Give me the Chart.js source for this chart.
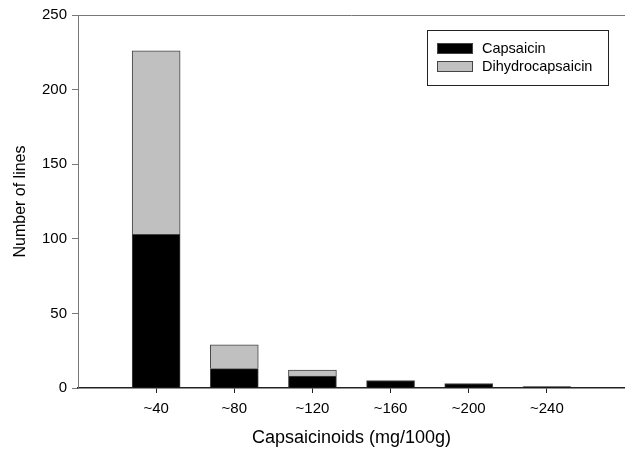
<!DOCTYPE html>
<html>
<head>
<meta charset="utf-8">
<script src="https://cdn.jsdelivr.net/npm/chart.js@4/dist/chart.umd.min.js"></script>
<style>
    html, body { margin: 0; padding: 0; background: #fff; }
    #wrap { width: 625px; height: 449px; position: relative; }
</style>
</head>
<body>
<div id="wrap"><canvas id="chart"></canvas></div>
<script>
const binCenters = [40, 80, 120, 160, 200, 240];
const capsaicin = [103, 13, 8, 5, 3, 1];
const dihydrocapsaicin = [123, 16, 4, 0, 0, 0];
const yTicks = [0, 50, 100, 150, 200, 250];

const FONT = '"Liberation Sans", Arial, sans-serif';

// legend box drawn inside the plot, top right
const boxLegend = {
    id: 'boxLegend',
    afterDraw(chart) {
        const ctx = chart.ctx;
        const x = 427, y = 30, w = 181, h = 55;
        ctx.save();
        ctx.strokeStyle = '#222';
        ctx.lineWidth = 1;
        ctx.fillStyle = '#fff';
        ctx.fillRect(x, y, w, h);
        ctx.strokeRect(x + 0.5, y + 0.5, w, h);
        ctx.font = '14.5px ' + FONT;
        ctx.textBaseline = 'middle';
        chart.data.datasets.forEach((ds, i) => {
            const sy = 43 + i * 18;
            ctx.fillStyle = ds.backgroundColor;
            ctx.fillRect(437, sy, 36, 11);
            ctx.strokeStyle = '#444';
            ctx.strokeRect(437.5, sy + 0.5, 35, 10);
            ctx.fillStyle = '#000';
            ctx.fillText(ds.label, 482, sy + 6);
        });
        ctx.restore();
    },
};

// top frame line
const topLine = {
    id: 'topLine',
    afterDraw(chart) {
        const { ctx, chartArea } = chart;
        ctx.save();
        ctx.strokeStyle = '#777';
        ctx.lineWidth = 1;
        ctx.beginPath();
        ctx.moveTo(chartArea.left, chartArea.top + 0.5);
        ctx.lineTo(chartArea.right, chartArea.top + 0.5);
        ctx.stroke();
        ctx.restore();
    },
};

new Chart(document.getElementById('chart'), {
    type: 'bar',
    data: {
        datasets: [
            {
                label: 'Capsaicin',
                data: capsaicin.map((v, i) => ({ x: binCenters[i], y: v })),
                backgroundColor: '#000000',
                borderColor: '#444444',
                borderWidth: 1,
                barThickness: 48,
            },
            {
                label: 'Dihydrocapsaicin',
                data: dihydrocapsaicin.map((v, i) => ({ x: binCenters[i], y: v })),
                backgroundColor: '#c0c0c0',
                borderColor: '#444444',
                borderWidth: 1,
                barThickness: 48,
            },
        ],
    },
    options: {
        responsive: true,
        maintainAspectRatio: false,
        animation: false,
        layout: { padding: { top: 15, right: 0, left: 0, bottom: 0 } },
        plugins: {
            legend: { display: false },
            tooltip: { enabled: false },
        },
        scales: {
            x: {
                type: 'linear',
                stacked: true,
                offset: false,
                min: 0,
                max: 280,
                afterBuildTicks(scale) {
                    scale.ticks = binCenters.map((v) => ({ value: v }));
                },
                afterFit(scale) { scale.height = 61; },
                ticks: {
                    callback: (v) => '~' + v,
                    color: '#000',
                    font: { family: FONT, size: 15 },
                    padding: 7,
                    maxRotation: 0,
                    autoSkip: false,
                },
                grid: { offset: false, drawOnChartArea: false, drawTicks: true, tickLength: 5, color: '#222' },
                border: { display: true, color: '#222', width: 1.5 },
                title: {
                    display: true,
                    text: 'Capsaicinoids (mg/100g)',
                    color: '#000',
                    font: { family: FONT, size: 18 },
                    padding: { top: 12, bottom: 0 },
                },
            },
            y: {
                stacked: true,
                min: 0,
                max: 250,
                afterBuildTicks(scale) {
                    scale.ticks = yTicks.map((v) => ({ value: v }));
                },
                afterFit(scale) { scale.width = 78; },
                ticks: {
                    color: '#000',
                    font: { family: FONT, size: 15 },
                    padding: 5,
                },
                grid: { drawOnChartArea: false, drawTicks: true, tickLength: 6, color: '#777' },
                border: { display: true, color: '#777', width: 1 },
                title: {
                    display: true,
                    text: 'Number of lines',
                    color: '#000',
                    font: { family: FONT, size: 16 },
                    padding: { bottom: 0, top: 11 },
                },
            },
        },
    },
    plugins: [topLine, boxLegend],
});
</script>
</body>
</html>
